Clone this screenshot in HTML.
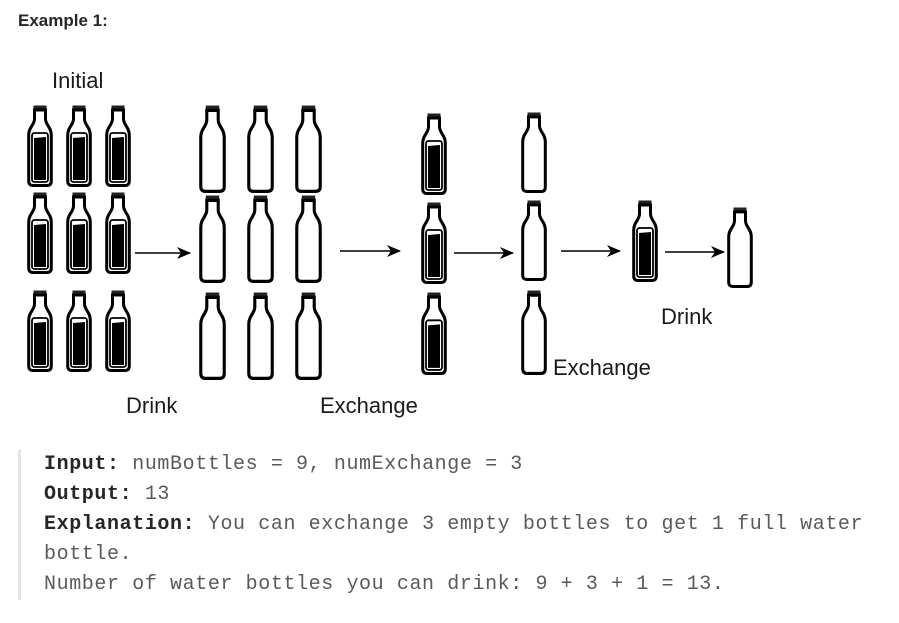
<!DOCTYPE html>
<html><head><style>
body{margin:0;width:899px;height:623px;background:#fff;overflow:hidden;position:relative;font-family:"Liberation Sans",sans-serif}
.t{position:absolute;color:#1a1a1a;font-size:22px;white-space:nowrap}
.code{position:absolute;left:18px;top:450px;height:150px;border-left:3px solid #e3e3e3;padding-left:23px;font-family:"Liberation Mono",monospace;font-size:20px;letter-spacing:0.6px;line-height:30px;color:#5a5a5a;white-space:pre}
.code b{color:#262626}
</style></head><body>
<div class="t" style="left:52px;top:68px">Initial</div>
<div class="t" style="left:18px;top:11px;font-size:17px;font-weight:bold;color:#262626">Example 1:</div>
<div class="t" style="left:126px;top:393px">Drink</div>
<div class="t" style="left:320px;top:393px">Exchange</div>
<div class="t" style="left:553px;top:355px">Exchange</div>
<div class="t" style="left:661px;top:304px">Drink</div>
<svg width="899" height="440" style="position:absolute;left:0;top:0">
<defs>
<symbol id="e" viewBox="0 0 26 82" preserveAspectRatio="none">
<rect x="6.5" y="0.5" width="13" height="4" fill="#222"/>
<path d="M7.5 5 H18.5 V14 C18.5 20 24.3 22 24.3 30 V76 Q24.3 80.5 20 80.5 H6 Q1.7 80.5 1.7 76 V30 C1.7 22 7.5 20 7.5 14 Z" fill="#fff" stroke="#000" stroke-width="3"/>
</symbol>
<symbol id="f" viewBox="0 0 26 82" preserveAspectRatio="none">
<rect x="6.5" y="0.5" width="13" height="4" fill="#222"/>
<path d="M7.5 5 H18.5 V14 C18.5 20 24.3 22 24.3 30 V76 Q24.3 80.5 20 80.5 H6 Q1.7 80.5 1.7 76 V30 C1.7 22 7.5 20 7.5 14 Z" fill="#fff" stroke="#000" stroke-width="3"/>
<rect x="5" y="28" width="16" height="49" rx="2.5" fill="#fff" stroke="#000" stroke-width="1.8"/>
<path d="M7 33 L19 32 V75 H7 Z" fill="#000"/>
</symbol>
<marker id="a" markerWidth="14" markerHeight="12" refX="13" refY="6" orient="auto" markerUnits="userSpaceOnUse"><path d="M0 0 L14 6 L0 12 L4 6 Z" fill="#000"/></marker>
</defs>
<g>
<use href="#f" x="27" y="105" width="26" height="82"/><use href="#f" x="66" y="105" width="26" height="82"/><use href="#f" x="105" y="105" width="26" height="82"/>
<use href="#f" x="27" y="192" width="26" height="82"/><use href="#f" x="66" y="192" width="26" height="82"/><use href="#f" x="105" y="192" width="26" height="82"/>
<use href="#f" x="27" y="290" width="26" height="82"/><use href="#f" x="66" y="290" width="26" height="82"/><use href="#f" x="105" y="290" width="26" height="82"/>

<use href="#e" x="199" y="105" width="27" height="88"/><use href="#e" x="247" y="105" width="27" height="88"/><use href="#e" x="295" y="105" width="27" height="88"/>
<use href="#e" x="199" y="195" width="27" height="88"/><use href="#e" x="247" y="195" width="27" height="88"/><use href="#e" x="295" y="195" width="27" height="88"/>
<use href="#e" x="199" y="292" width="27" height="88"/><use href="#e" x="247" y="292" width="27" height="88"/><use href="#e" x="295" y="292" width="27" height="88"/>

<use href="#f" x="421" y="113" width="26" height="82"/><use href="#f" x="421" y="202" width="26" height="82"/><use href="#f" x="421" y="292" width="26" height="83"/>
<use href="#e" x="521" y="112" width="26" height="81"/><use href="#e" x="521" y="200" width="26" height="81"/><use href="#e" x="521" y="290" width="26" height="85"/>
<use href="#f" x="632" y="200" width="26" height="82"/>
<use href="#e" x="727" y="207" width="26" height="81"/>
</g>
<g stroke="#000" stroke-width="1.5" marker-end="url(#a)">
<line x1="135" y1="253" x2="190" y2="253"/>
<line x1="340" y1="251" x2="400" y2="251"/>
<line x1="454" y1="253" x2="513" y2="253"/>
<line x1="561" y1="251" x2="620" y2="251"/>
<line x1="665" y1="252" x2="724" y2="252"/>
</g>
</svg>
<div class="code"><b>Input:</b> numBottles = 9, numExchange = 3
<b>Output:</b> 13
<b>Explanation:</b> You can exchange 3 empty bottles to get 1 full water
bottle.
Number of water bottles you can drink: 9 + 3 + 1 = 13.</div>
</body></html>
